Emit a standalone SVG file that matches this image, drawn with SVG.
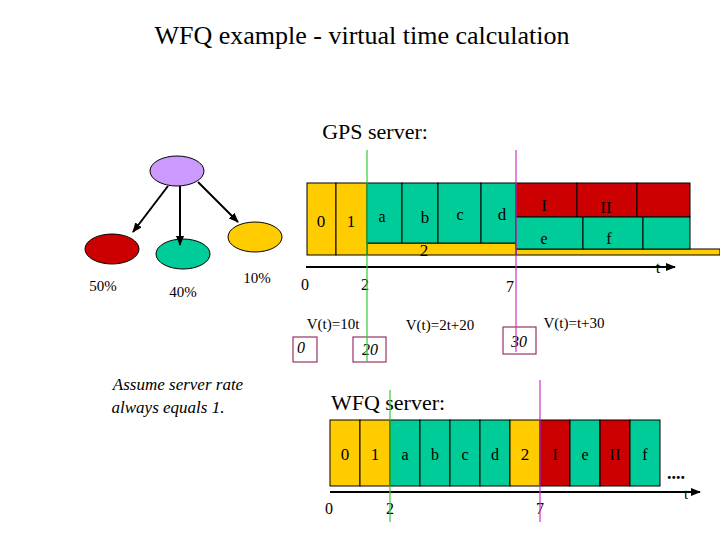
<svg xmlns="http://www.w3.org/2000/svg" width="720" height="540" viewBox="0 0 720 540" font-family="'Liberation Serif','DejaVu Serif',serif">
<defs>
<style>
text{font-family:"Liberation Serif","DejaVu Serif",serif;fill:#000}
.y{fill:#FFCC00;stroke:#000;stroke-width:1}
.g{fill:#00CC99;stroke:#000;stroke-width:1}
.r{fill:#CC0000;stroke:#000;stroke-width:1}
.l{font-size:17px;text-anchor:middle}
.n{font-size:16px;text-anchor:middle}
.vb{fill:none;stroke:#993366;stroke-width:1.2}
.it{font-style:italic}
</style>
<marker id="ah" markerWidth="10" markerHeight="8" refX="9" refY="4" orient="auto" markerUnits="userSpaceOnUse"><path d="M0,0L10,4L0,8z" fill="#000"/></marker>
</defs>
<rect width="720" height="540" fill="#fff"/>
<text x="362" y="44" font-size="26" text-anchor="middle" font-family="'Liberation Serif',serif">WFQ example - virtual time calculation</text>
<text x="375" y="139" font-size="22" text-anchor="middle" font-family="'Liberation Serif',serif">GPS server:</text>
<g id="tree">
<ellipse id="root" cx="177" cy="171" rx="27" ry="15" fill="#CC99FF" stroke="#000"/>
<ellipse id="red" cx="112" cy="249" rx="27" ry="15" class="r"/>
<ellipse id="green" cx="183" cy="254" rx="27" ry="15" class="g"/>
<ellipse id="yellow" cx="255" cy="237" rx="27" ry="15" class="y"/>
<text x="103" y="291" font-size="15" text-anchor="middle">50%</text>
<text x="183" y="297" font-size="15" text-anchor="middle">40%</text>
<text x="257" y="283" font-size="15" text-anchor="middle">10%</text>
</g>
<g id="connectors" stroke="#000" stroke-width="2" fill="none">
<line x1="168" y1="186" x2="133" y2="232" marker-end="url(#ah)"/>
<line x1="180" y1="186" x2="180" y2="245" marker-end="url(#ah)"/>
<line x1="198" y1="182" x2="238" y2="222" marker-end="url(#ah)"/>
</g>
<g id="gps">
<rect x="516" y="249" width="204" height="6" class="y"/>
<rect x="367" y="243" width="149" height="12" class="y"/>
<rect x="307" y="183" width="29" height="72" class="y"/>
<rect x="336" y="183" width="31" height="72" class="y"/>
<rect x="367" y="183" width="35" height="60" class="g"/>
<rect x="402" y="183" width="36" height="60" class="g"/>
<rect x="438" y="183" width="43" height="60" class="g"/>
<rect x="481" y="183" width="35" height="60" class="g"/>
<rect x="516" y="183" width="61" height="34" class="r"/>
<rect x="577" y="183" width="60" height="34" class="r"/>
<rect x="637" y="183" width="53" height="34" class="r"/>
<rect x="516" y="217" width="67" height="32" class="g"/>
<rect x="583" y="217" width="60" height="32" class="g"/>
<rect x="643" y="217" width="47" height="32" class="g"/>
<text x="321" y="227" class="l">0</text>
<text x="351" y="227" class="l">1</text>
<text x="382" y="222" class="n">a</text>
<text x="425" y="223" class="l">b</text>
<text x="460" y="220" class="n">c</text>
<text x="502" y="220" class="l">d</text>
<text x="544" y="211" class="l">I</text>
<text x="606" y="213" class="l">II</text>
<text x="544" y="244" class="n">e</text>
<text x="609" y="244" class="n">f</text>
<text x="424" y="256" class="l">2</text>
<line x1="306" y1="267" x2="675" y2="267" stroke="#000" stroke-width="2" marker-end="url(#ah)"/>
<text x="658" y="273" font-size="16" text-anchor="middle">t</text>
<text x="305" y="290" class="n">0</text>
<text x="365" y="290" class="n">2</text>
<text x="510" y="292" class="n">7</text>
<text x="333" y="329" font-size="15" text-anchor="middle">V(t)=10t</text>
<text x="440" y="330" font-size="15" text-anchor="middle">V(t)=2t+20</text>
<text x="574" y="328" font-size="15" text-anchor="middle">V(t)=t+30</text>
<rect x="293" y="337" width="24" height="25" class="vb"/>
<rect x="353" y="337" width="33" height="25" class="vb"/>
<rect x="503" y="327" width="33" height="27" class="vb"/>
<text x="301" y="353" font-size="16" class="it" text-anchor="middle">0</text>
<text x="370" y="355" font-size="16" class="it" text-anchor="middle">20</text>
<text x="519" y="347" font-size="16" class="it" text-anchor="middle">30</text>
</g>
<text x="178" y="390" font-size="17" class="it" text-anchor="middle">Assume server rate</text>
<text x="168" y="413" font-size="17" class="it" text-anchor="middle">always equals 1.</text>
<text x="388" y="410" font-size="22" text-anchor="middle" font-family="'Liberation Serif',serif">WFQ server:</text>
<g id="wfq">
<rect x="330" y="420" width="30" height="66" class="y"/>
<rect x="360" y="420" width="30" height="66" class="y"/>
<rect x="390" y="420" width="30" height="66" class="g"/>
<rect x="420" y="420" width="30" height="66" class="g"/>
<rect x="450" y="420" width="30" height="66" class="g"/>
<rect x="480" y="420" width="30" height="66" class="g"/>
<rect x="510" y="420" width="30" height="66" class="y"/>
<rect x="540" y="420" width="30" height="66" class="r"/>
<rect x="570" y="420" width="30" height="66" class="g"/>
<rect x="600" y="420" width="30" height="66" class="r"/>
<rect x="630" y="420" width="30" height="66" class="g"/>
<text x="345" y="460" class="l">0</text>
<text x="375" y="460" class="l">1</text>
<text x="405" y="460" class="n">a</text>
<text x="435" y="460" class="n">b</text>
<text x="465" y="460" class="n">c</text>
<text x="495" y="460" class="n">d</text>
<text x="525" y="460" class="l">2</text>
<text x="555" y="460" class="l" fill="#330000">I</text>
<text x="585" y="460" class="n">e</text>
<text x="615" y="460" class="l" fill="#330000">II</text>
<text x="645" y="460" class="n">f</text>
<text x="676" y="479" font-size="18" text-anchor="middle" font-weight="bold">....</text>
<line x1="330" y1="492" x2="700" y2="492" stroke="#000" stroke-width="2" marker-end="url(#ah)"/>
<text x="686" y="499" font-size="15" text-anchor="middle">t</text>
<text x="329" y="514" class="n">0</text>
<text x="390" y="514" class="n">2</text>
<text x="540" y="514" class="n">7</text>
</g>
<g id="markers" stroke-width="1.2">
<line x1="367" y1="150" x2="367" y2="362" stroke="#33CC33"/>
<line x1="516" y1="150" x2="516" y2="352" stroke="#CC33CC"/>
<line x1="390" y1="390" x2="390" y2="522" stroke="#33CC33"/>
<line x1="540" y1="380" x2="540" y2="522" stroke="#CC33CC"/>
</g>
</svg>
